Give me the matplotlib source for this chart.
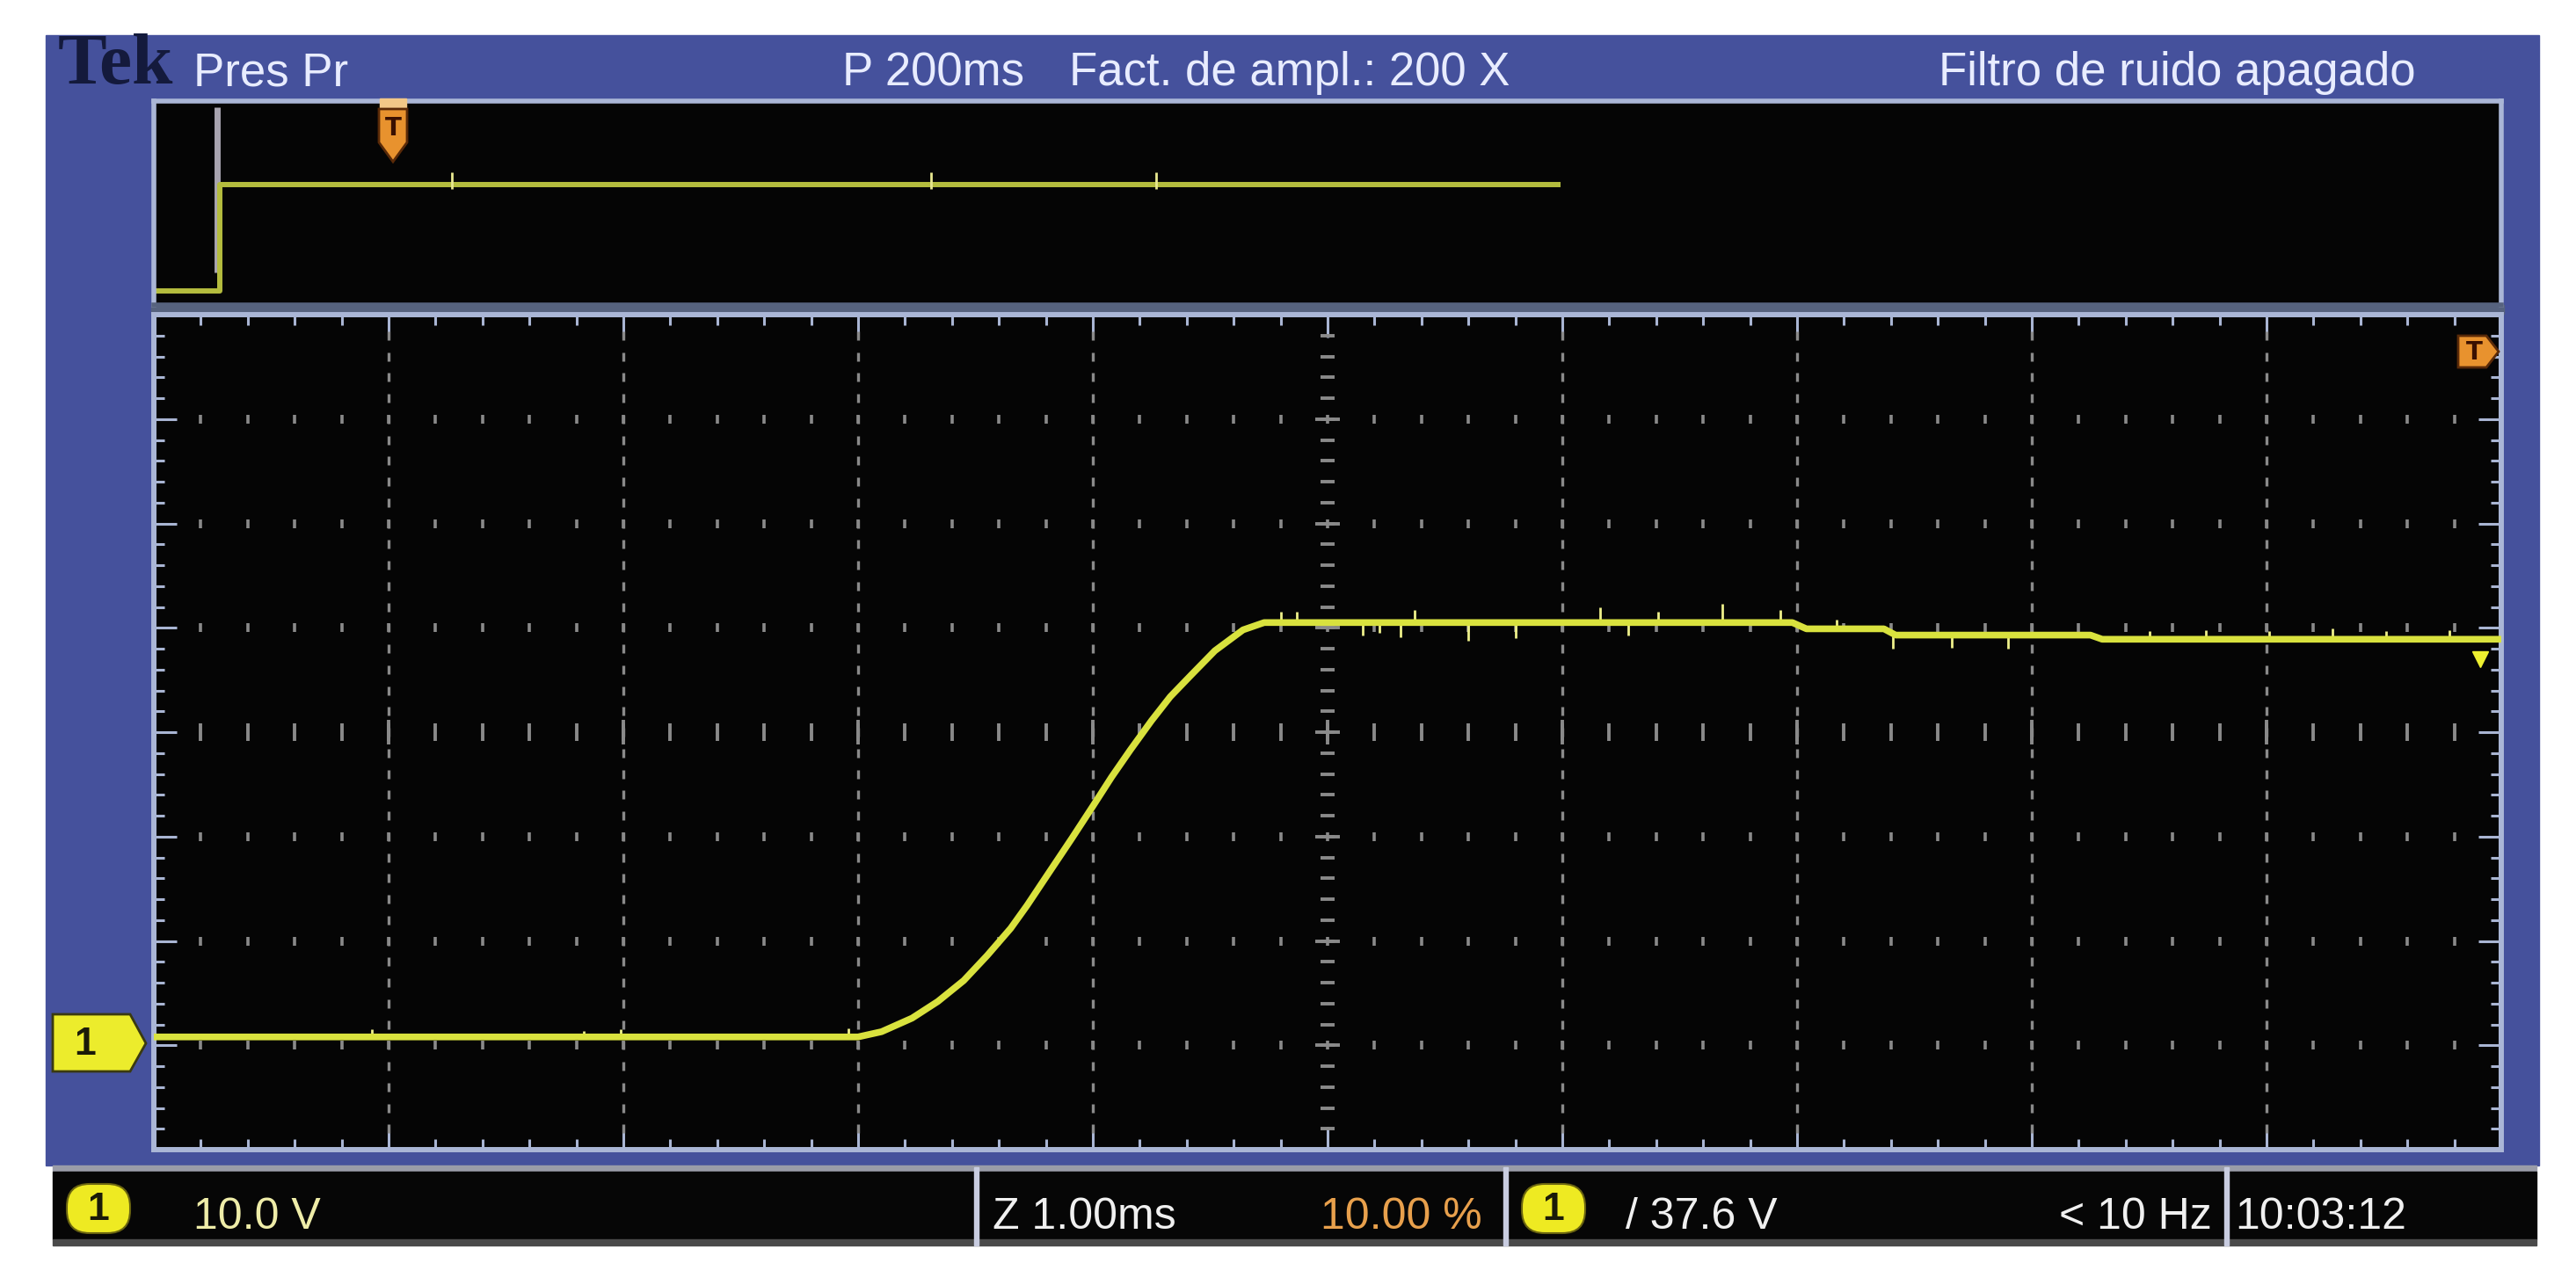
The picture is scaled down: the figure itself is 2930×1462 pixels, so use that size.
import numpy as np
import matplotlib
matplotlib.use('Agg')
import matplotlib.pyplot as plt
from matplotlib.patches import Rectangle, Polygon, FancyBboxPatch
from matplotlib.ticker import MultipleLocator

W, H = 2930, 1462
DPI = 100

# canal 1, zoom 1.00 ms/div, 10 V/div (tiempo en ms, tension en V)
trace_t = [0.00, 3.00, 3.10, 3.23, 3.34, 3.45, 3.55, 3.65, 3.72, 3.80, 3.91,
           4.00, 4.08, 4.16, 4.25, 4.33, 4.42, 4.52, 4.58, 4.64, 4.73,
           6.98, 7.04, 7.37, 7.42, 8.25, 8.30, 9.90, 10.00]
trace_v = [0.8, 0.8, 1.3, 2.6, 4.2, 6.2, 8.6, 11.2, 13.4, 16.1, 19.8,
           22.9, 25.7, 28.3, 31.1, 33.4, 35.5, 37.8, 38.8, 39.8, 40.5,
           40.5, 39.9, 39.9, 39.3, 39.3, 38.9, 38.9, 38.9]

# pequenos picos de ruido sobre la traza
glitch_t = [0.93, 1.83, 1.99, 2.96, 4.80, 4.87, 5.15, 5.22, 5.31, 5.37, 5.60,
            5.80, 6.16, 6.28, 6.41, 6.68, 6.93, 7.17, 7.41, 7.66, 7.90, 8.50,
            8.74, 9.01, 9.28, 9.51, 9.78]
glitch_dv = [0.7, 0.6, 0.7, 0.8, 1.0, 1.0, -1.2, -1.0, -1.4, 1.2, -1.7,
             -1.5, 1.5, -1.2, 1.0, 1.8, 1.2, 0.9, -1.4, -1.2, -1.3, 0.8,
             0.9, 0.8, 1.0, 0.8, 0.9]

# vista general (P 200 ms/div), en divisiones
ov_t = [0.0, 0.28, 0.28, 5.98]
ov_level = [0.07, 0.07, 0.59, 0.59]
ov_marks = [1.27, 3.31, 4.27]

header_texts = ['Pres Pr', 'P 200ms', 'Fact. de ampl.: 200 X', 'Filtro de ruido apagado']
status_texts = ['10.0 V', 'Z 1.00ms', '10.00 %', '/ 37.6 V', '< 10 Hz', '10:03:12']

SANS = ['Liberation Sans', 'DejaVu Sans']
BLUE = '#45519c'
BORDER = '#aab6d6'
YEL = '#d9e23e'

fig = plt.figure(figsize=(W / DPI, H / DPI), dpi=DPI, facecolor='white')

# fondo en pixeles
bg = fig.add_axes([0, 0, 1, 1], zorder=0)
bg.set_xlim(0, W)
bg.set_ylim(H, 0)
bg.axis('off')
bg.add_patch(Rectangle((52, 40), 2836, 1286, color=BLUE))
bg.add_patch(Rectangle((172, 347), 2676, 10, color='#56627e'))
# barra de estado
bg.add_patch(Rectangle((60, 1326), 2825, 7, color='#9a9ca8'))
bg.add_patch(Rectangle((60, 1333), 2825, 77, color='#060606'))
bg.add_patch(Rectangle((60, 1410), 2825, 7, color='#4a4a4a'))
for sx in [1110, 1712, 2532]:
    bg.add_patch(Rectangle((sx - 2, 1328), 5, 89, color='#c8cce0'))

bg.text(66, 95, 'Tek', family=['Liberation Serif', 'DejaVu Serif'], weight='bold',
        fontsize=60, color='#141a3c', va='baseline')
for x, s in zip([220, 958, 1216, 2205], header_texts):
    bg.text(x, 97, s, family=SANS, fontsize=38, color='#e8ecff', va='baseline')

for bx in [62, 1717]:
    bg.add_patch(FancyBboxPatch((bx + 14, 1347), 72, 56,
                                boxstyle='round,pad=0,rounding_size=26',
                                fc='#eeea22', ec='#6a6410', lw=1.5))
    bg.text(bx + 50, 1377, '1', family=SANS, fontsize=32, weight='bold',
            color='#1a1a08', ha='center', va='center')
status_x = [220, 1129, 1502, 1849, 2342, 2542]
status_c = ['#eeeca8', '#f0f0f0', '#e8a04c', '#f0f0f0', '#f0f0f0', '#f0f0f0']
for x, s, c in zip(status_x, status_texts, status_c):
    bg.text(x, 1398, s, family=SANS, fontsize=36, color=c, va='baseline')

# marcador de tierra del canal 1
bg.add_patch(Polygon([(60, 1154), (148, 1154), (166, 1187), (148, 1219), (60, 1219)],
                     closed=True, fc='#ecec2c', ec='#3a3a10', lw=2))
bg.text(97, 1189, '1', family=SANS, fontsize=32, weight='bold',
        color='#1a1a08', ha='center', va='center')

# vista general
ov = fig.add_axes([175 / W, 1 - 347 / H, 2670 / W, 232 / H], zorder=2)
ov.set_xlim(0, 10)
ov.set_ylim(0, 1)
ov.set_facecolor('#050505')
ov.set_xticks([])
ov.set_yticks([])
for name, sp in ov.spines.items():
    sp.set_color(BORDER if name != 'bottom' else '#56627e')
    sp.set_linewidth(4)
ov.plot([0.27, 0.27], [0.16, 0.97], color='#a8a4b0', lw=5, solid_capstyle='butt')
ov.plot(ov_t, ov_level, color='#b4bc3e', lw=4.3)
ov.vlines(ov_marks, 0.57, 0.65, color='#e8e890', lw=2)

# pantalla principal
ax = fig.add_axes([175 / W, 1 - 1308 / H, 2670 / W, 950 / H], zorder=3)
ax.set_xlim(0, 10)
ax.set_ylim(-10, 70)
ax.set_facecolor('#050505')
ax.xaxis.set_major_locator(MultipleLocator(1))
ax.xaxis.set_minor_locator(MultipleLocator(0.2))
ax.yaxis.set_major_locator(MultipleLocator(10))
ax.yaxis.set_minor_locator(MultipleLocator(2))
ax.tick_params(which='both', direction='in', top=True, right=True,
               labelbottom=False, labelleft=False, color='#a9b5d3', width=2.2)
ax.tick_params(which='major', length=19)
ax.tick_params(which='minor', length=8.6)
for sp in ax.spines.values():
    sp.set_color(BORDER)
    sp.set_linewidth(4.3)

ys = np.arange(-8, 70, 2)
xs = np.arange(0.2, 10, 0.2)
grid_c = '#8a8a8a'
for gx in [1, 2, 3, 4, 6, 7, 8, 9]:
    ax.plot(np.full(len(ys), gx), ys, ls='none', marker='|', ms=7, mew=2.4, color=grid_c)
for gy in [0, 10, 20, 40, 50, 60]:
    ax.plot(xs, np.full(len(xs), gy), ls='none', marker='|', ms=6.5, mew=2.6, color=grid_c)
ax.plot(np.full(len(ys), 5), ys, ls='none', marker='_', ms=12, mew=2.8, color='#8a8a8a')
ax.plot(np.full(7, 5), np.arange(0, 70, 10), ls='none', marker='_', ms=20, mew=2.8, color='#8a8a8a')
ax.plot(xs, np.full(len(xs), 30), ls='none', marker='|', ms=14, mew=2.8, color='#8a8a8a')
ax.plot(np.arange(1, 10), np.full(9, 30), ls='none', marker='|', ms=20, mew=2.8, color='#8a8a8a')

base = np.interp(glitch_t, trace_t, trace_v)
ax.vlines(glitch_t, base, base + np.array(glitch_dv), color='#eef08a', lw=2, zorder=4)
ax.plot(trace_t, trace_v, color=YEL, lw=5.5, zorder=5, solid_joinstyle='round')
ax.plot([9.91], [37.0], marker='v', ms=13, color='#eef030', zorder=6)

# marcadores de disparo
fg = fig.add_axes([0, 0, 1, 1], zorder=10)
fg.set_xlim(0, W)
fg.set_ylim(H, 0)
fg.axis('off')
fg.add_patch(Rectangle((432, 112), 30, 12, color='#f2c888'))
fg.add_patch(Polygon([(431, 124), (463, 124), (463, 162), (447, 184), (431, 162)],
                     closed=True, fc='#e8922e', ec='#5a2a08', lw=2))
fg.text(447, 146, 'T', family='DejaVu Sans', fontsize=20, weight='bold',
        color='#3a1000', ha='center', va='center')
fg.add_patch(Polygon([(2796, 382), (2828, 382), (2842, 400), (2828, 418), (2796, 418)],
                     closed=True, fc='#e8922e', ec='#5a2a08', lw=2))
fg.text(2814, 401, 'T', family='DejaVu Sans', fontsize=20, weight='bold',
        color='#3a1000', ha='center', va='center')

fig.savefig('out.png', dpi=DPI, facecolor='white')
